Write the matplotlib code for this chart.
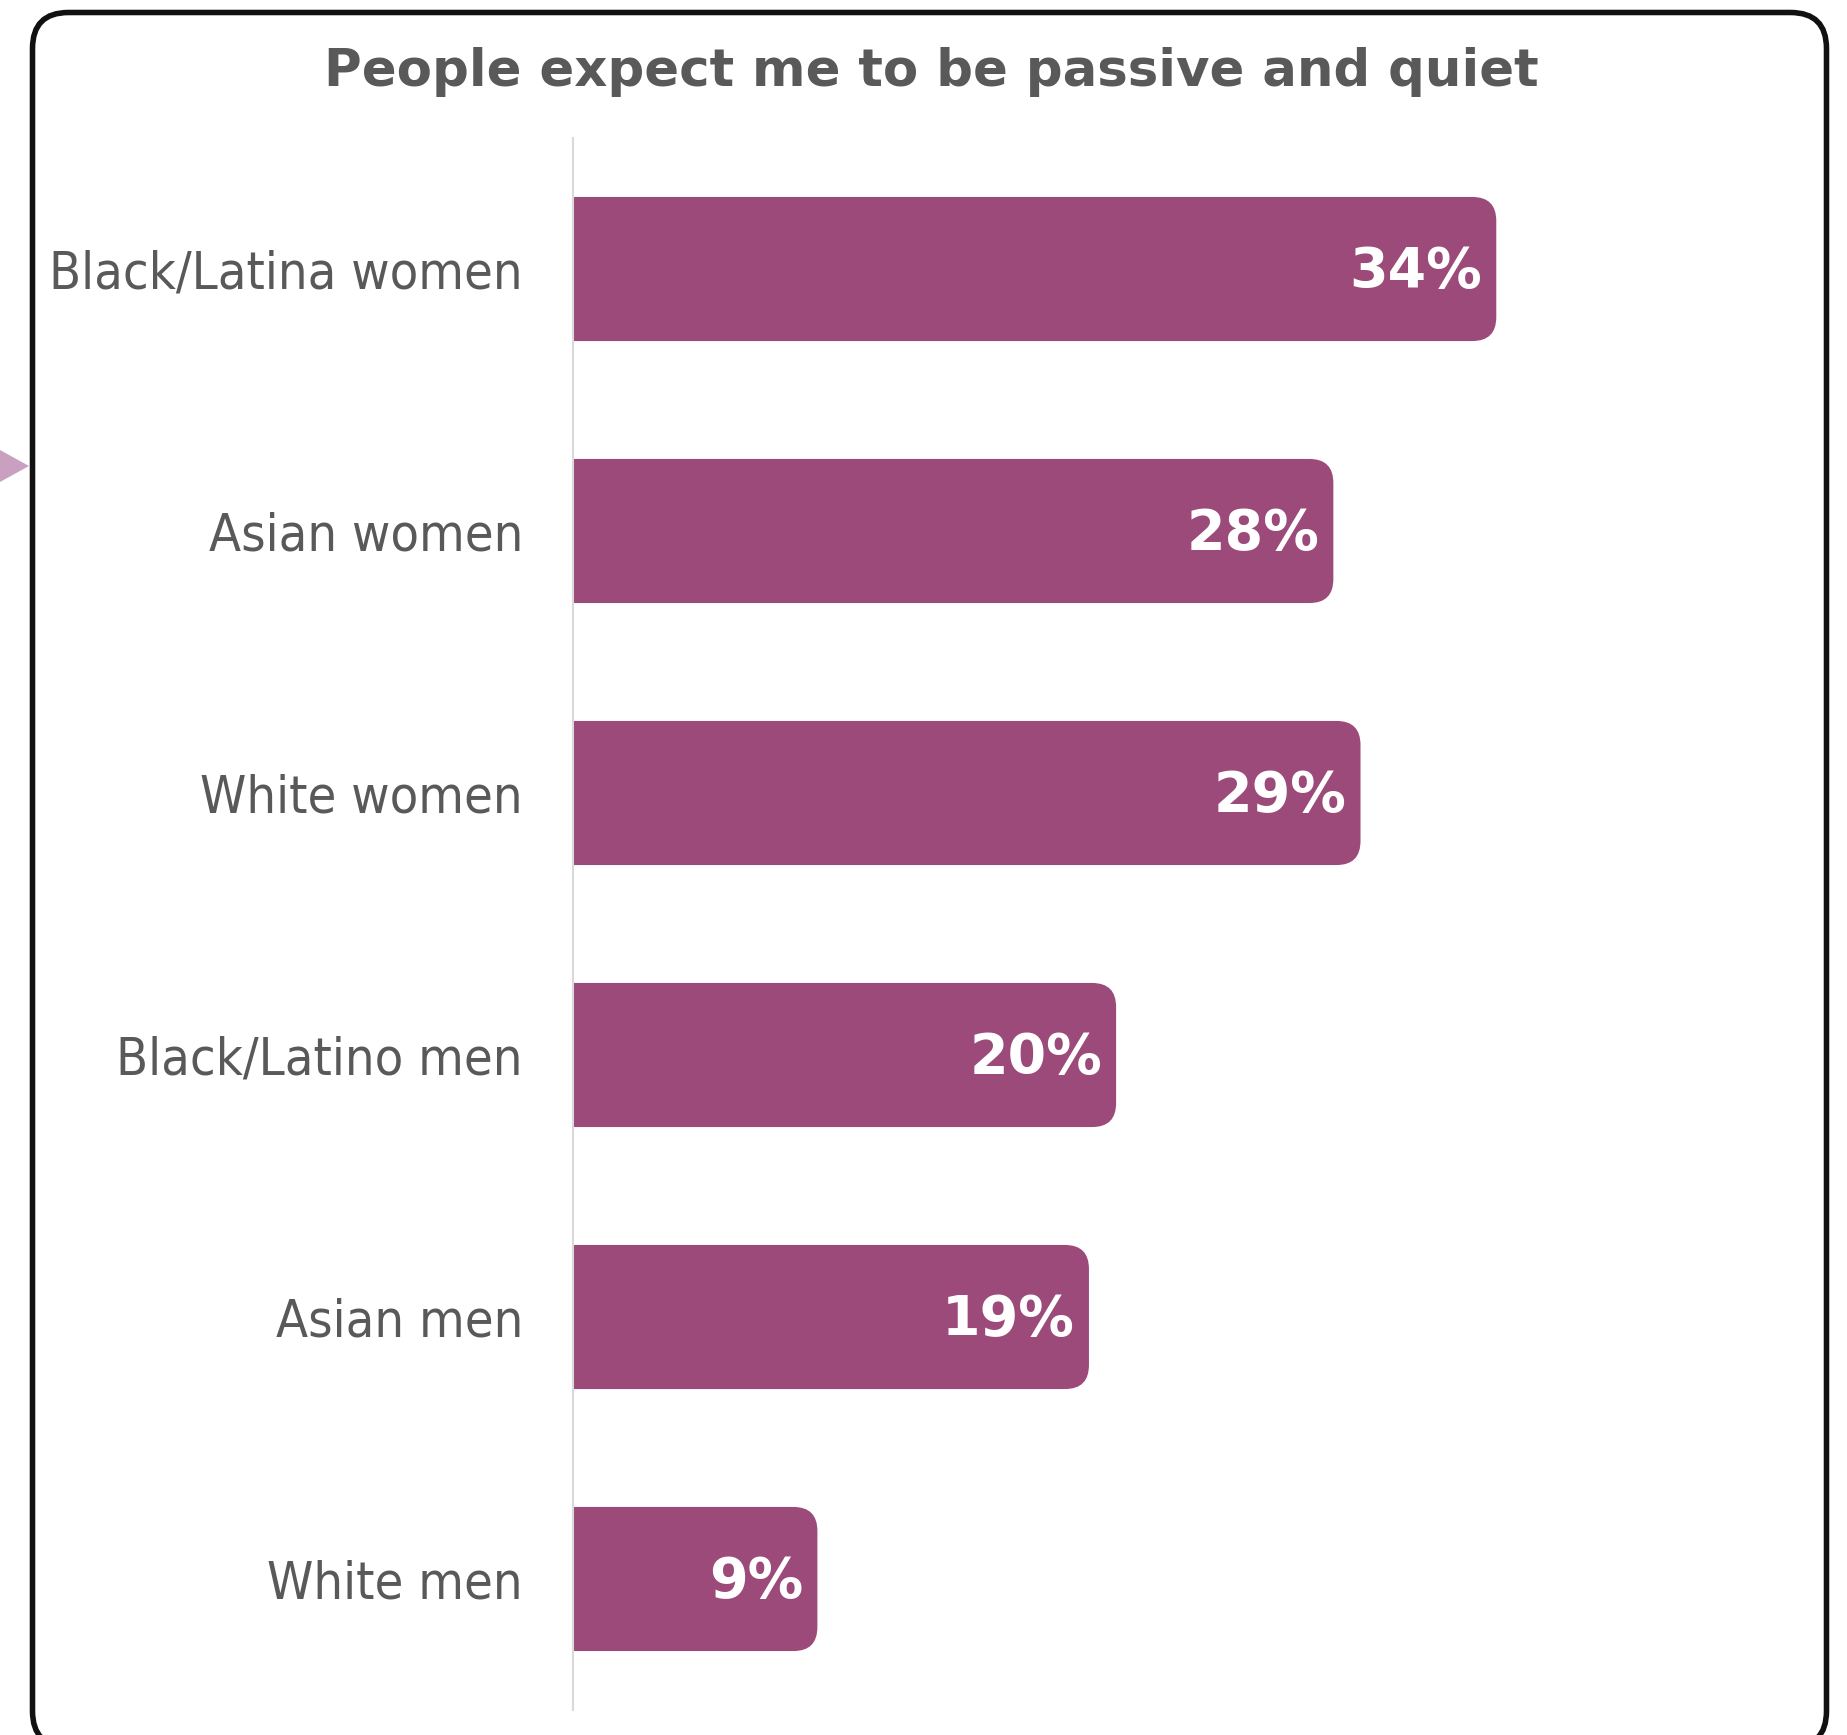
import matplotlib
matplotlib.use("Agg")
import matplotlib.pyplot as plt
from matplotlib.patches import FancyBboxPatch, Polygon
from matplotlib.transforms import IdentityTransform

# Survey data
categories = ["Black/Latina women", "Asian women", "White women",
              "Black/Latino men", "Asian men", "White men"]
values = [34, 28, 29, 20, 19, 9]
title = "People expect me to be passive and quiet"

BAR_COLOR = "#9B4A7A"
TEXT_GRAY = "#595959"
AXIS_GRAY = "#D9D9D9"

W, H = 1847, 1735
DPI = 100
fig = plt.figure(figsize=(W / DPI, H / DPI), dpi=DPI)
fig.patch.set_facecolor("white")

# Plot area (pixel geometry converted to figure fractions)
ax_left, ax_right = 573, 1795
ax_top, ax_bottom = 138, 1710
ax = fig.add_axes([ax_left / W, (H - ax_bottom) / H,
                   (ax_right - ax_left) / W, (ax_bottom - ax_top) / H])

y_pos = list(range(len(categories)))
ax.set_xlim(0, 45)
ax.set_ylim(len(categories) - 0.5, -0.5)

bar_h = 0.55
bars = ax.barh(y_pos, values, height=bar_h, color=BAR_COLOR)

# Replace square bars with ones rounded on the right end
px_per_x = (ax_right - ax_left) / 45.0
px_per_y = (ax_bottom - ax_top) / len(categories)
radius_px = 24
r_x = radius_px / px_per_x
aspect = px_per_x / px_per_y
for bar in bars:
    x0 = bar.get_x()
    y0 = bar.get_y()
    w = bar.get_width()
    h = bar.get_height()
    bar.set_visible(False)
    rounded = FancyBboxPatch((x0 - 2, y0), w + 2, h,
                             boxstyle=f"round,pad=0,rounding_size={r_x}",
                             mutation_aspect=aspect,
                             facecolor=BAR_COLOR, edgecolor="none", zorder=2)
    ax.add_patch(rounded)

# Value labels inside the bar ends
for yi, v in zip(y_pos, values):
    ax.annotate(f"{v}%", xy=(v, yi), xytext=(-10, -2), textcoords="offset points",
                ha="right", va="center", color="white", fontsize=40,
                fontweight="bold", family="DejaVu Sans", zorder=3)

ax.set_yticks(y_pos)
ax.set_yticklabels(categories, fontsize=37.5, color=TEXT_GRAY,
                   family="DejaVu Sans", fontstretch="condensed")
ax.tick_params(axis="y", length=0, pad=36)
ax.set_xticks([])
for side in ("top", "right", "bottom"):
    ax.spines[side].set_visible(False)
ax.spines["left"].set_color(AXIS_GRAY)
ax.spines["left"].set_linewidth(1.5)
ax.spines["left"].set_zorder(4)
ax.set_facecolor("none")

# Title
fig.text(931 / W, (H - 72) / H, title, ha="center", va="center",
         fontsize=37, fontweight="bold", color=TEXT_GRAY, family="DejaVu Sans")

# Rounded outer frame
frame = FancyBboxPatch((32.5, -12), 1794, H - 12.5 + 12,
                       boxstyle="round,pad=0,rounding_size=36",
                       transform=IdentityTransform(), facecolor="none",
                       edgecolor="#111111", linewidth=4, clip_on=False)
fig.patches.append(frame)

# Small pointer on the left edge
pointer = Polygon([(-10, H - 444.5), (29, H - 466), (-10, H - 487.5)],
                  closed=True, transform=IdentityTransform(),
                  facecolor="#C9A0C0", edgecolor="none", clip_on=False)
fig.patches.append(pointer)

fig.savefig("out.png", dpi=DPI, facecolor="white")
